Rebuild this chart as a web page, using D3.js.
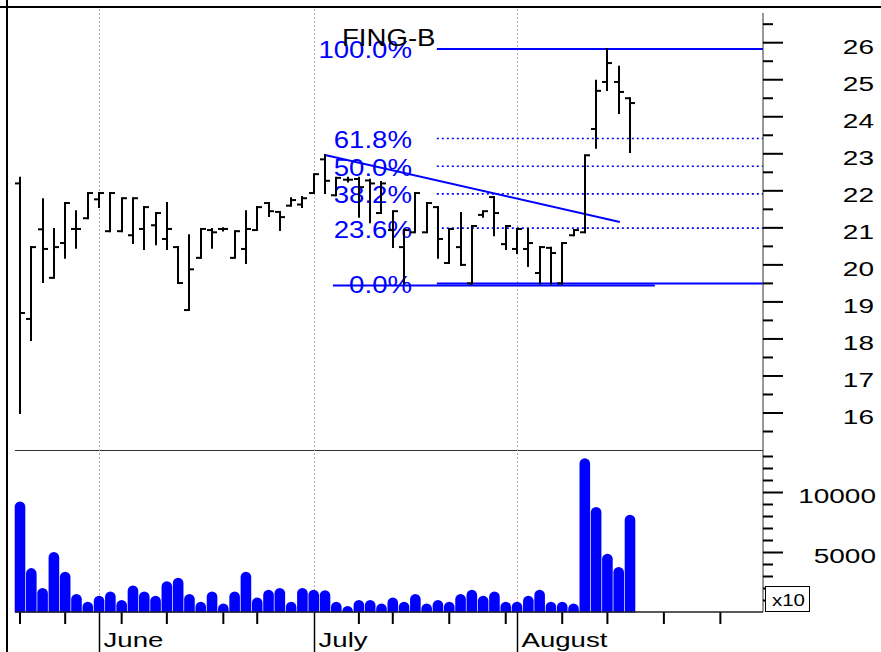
<!DOCTYPE html>
<html>
<head>
<meta charset="utf-8">
<script src="https://cdn.jsdelivr.net/npm/d3@7"></script>
<style>
  body { margin: 0; background: #fff; }
  svg { display: block; }
</style>
</head>
<body>
<svg id="chart" width="881" height="652"></svg>
<script>
// daily bars, trading day index 0..54 (late May -> mid August)
const openP  = [22.2, 18.54, 20.96, 19.65, 20.59, 20.97, 21.26, 21.77, 20.91, 20.91,
                20.8, 20.97, 21.07, 20.7, 20.48, 18.78, 20.19, 20.94, 20.97, 20.19,
                20.43, 20.94, 21.67, 21.43, 21.6, 21.63, 21.94, 22.85, 21.88, 22.3,
                22.32, 22.28, 21.4, 20.94, 20.48, 20.88, 20.88, 21.56, 20.05, 20.48,
                19.5, 21.35, 21.83, 20.56, 20.43, 20.43, 19.78, 20.46, 19.5, 20.8,
                20.88, 23.67, 24.94, 24.94, 24.5];
const highP  = [22.35, 20.48, 21.77, 20.97, 21.67, 21.45, 21.94, 21.94, 21.94, 21.8,
                21.8, 21.56, 21.4, 21.67, 20.48, 20.8, 20.97, 20.97, 20.99, 20.91,
                21.45, 21.56, 21.67, 21.43, 21.8, 21.83, 22.45, 22.97, 22.35, 22.35,
                22.35, 22.3, 22.24, 21.45, 20.94, 21.94, 21.67, 21.56, 20.97, 21.4,
                21.05, 21.45, 21.83, 21.05, 20.97, 20.97, 20.48, 20.46, 20.59, 20.94,
                22.96, 24.97, 25.83, 25.35, 24.5];
const lowP   = [16.0, 17.97, 19.54, 19.65, 20.19, 20.46, 21.26, 21.56, 20.91, 20.91,
                20.59, 20.43, 20.56, 20.43, 19.51, 18.78, 20.19, 20.46, 20.93, 20.19,
                20.05, 20.94, 21.32, 20.94, 21.6, 21.56, 21.94, 21.94, 21.88, 22.25,
                21.3, 21.15, 21.4, 20.48, 19.5, 20.88, 20.88, 20.19, 20.05, 20.0,
                19.5, 21.3, 20.8, 20.43, 20.32, 19.97, 19.5, 19.5, 19.5, 20.8,
                20.88, 23.16, 24.72, 24.1, 23.05];
const closeP = [18.7, 20.48, 20.43, 20.48, 21.67, 20.97, 21.94, 21.94, 21.94, 21.8,
                21.8, 21.56, 21.4, 20.97, 19.51, 19.88, 20.97, 20.88, 20.97, 20.91,
                20.97, 21.56, 21.45, 21.29, 21.75, 21.8, 22.45, 22.27, 22.35, 22.3,
                22.1, 22.2, 22.2, 21.45, 20.94, 21.94, 21.67, 20.7, 20.97, 20.0,
                21.05, 21.45, 21.4, 21.05, 20.97, 20.59, 20.48, 20.32, 20.59, 20.94,
                22.96, 24.7, 25.45, 24.67, 24.37];
const volume = [9250, 3700, 2050, 5050, 3400, 1550, 900, 1400, 1750, 1050,
                2250, 1750, 1400, 2600, 2900, 1550, 900, 1750, 750, 1750,
                3400, 1250, 1900, 2050, 900, 2050, 1900, 1850, 900, 550,
                1050, 1050, 750, 1250, 900, 1550, 750, 1050, 900, 1550,
                1900, 1400, 1750, 900, 900, 1400, 1900, 900, 900, 750,
                12850, 8800, 4900, 3800, 8150];

const weekTicks = [0, 4, 9, 13, 18, 21, 30, 33, 38, 43, 48, 52, 57, 62];
const monthTicks = [7, 26, 44];
const monthNames = ["June", "July", "August"];
const priceLabels = [16, 17, 18, 19, 20, 21, 22, 23, 24, 25, 26];
const priceMinor = [15.5, 16.5, 17.5, 18.5, 19.5, 20.5, 21.5, 22.5, 23.5, 24.5, 25.5, 26.5];
const volLabels = [5000, 10000];
const volMinor = [1000, 2000, 3000, 4000, 6000, 7000, 8000, 9000, 11000, 12000, 13000];

// fibonacci retracement drawn on the chart
const fibPct = [100, 61.8, 50, 38.2, 23.6, 0];
const fibNames = ["100.0%", "61.8%", "50.0%", "38.2%", "23.6%", "0.0%"];
const fibLow = 19.5, fibHigh = 25.83, fibStart = 36.9;
const trendLine = [[27, 22.97], [53.1, 21.16]];
const supportLine = [[27.7, 19.44], [56.2, 19.44]];

const svg = d3.select("#chart");
const FONT = "'Liberation Sans', Arial, sans-serif";
const BLUE = "#0000ff";

const x = d3.scaleLinear().domain([0, 54]).range([20, 630]);
const yP = d3.scaleLinear().domain([16, 26]).range([413, 42.7]);
const yV = d3.scaleLinear().domain([0, 13000]).range([612.5, 456.5]);
const axisX = 763, lastIdx = x.invert(axisX);

function label(x0, y0, txt, size, sx, anchor, color) {
  svg.append("text")
    .attr("transform", `translate(${x0},${y0}) scale(${sx},1)`)
    .attr("font-family", FONT).attr("font-size", size)
    .attr("text-anchor", anchor).attr("fill", color || "#000")
    .text(txt);
}

// frame
svg.append("line").attr("x1", 0).attr("x2", 881).attr("y1", 7).attr("y2", 7)
  .attr("stroke", "#000").attr("stroke-width", 2);
svg.append("line").attr("x1", 7).attr("x2", 7).attr("y1", 0).attr("y2", 652)
  .attr("stroke", "#000").attr("stroke-width", 2);
svg.append("line").attr("x1", 15).attr("x2", axisX).attr("y1", 450.5).attr("y2", 450.5)
  .attr("stroke", "#333").attr("stroke-width", 1);

// month grid
monthTicks.forEach((m, i) => {
  const mx = Math.round(x(m)) + 0.5;
  svg.append("line").attr("x1", mx).attr("x2", mx).attr("y1", 9).attr("y2", 612)
    .attr("stroke", "#aaa").attr("stroke-dasharray", "2,2");
  svg.append("line").attr("x1", mx).attr("x2", mx).attr("y1", 612).attr("y2", 652)
    .attr("stroke", "#000").attr("stroke-width", 1.5);
  label(mx + 4, 647, monthNames[i], 20, 1.38, "start");
});
weekTicks.forEach(w => {
  svg.append("line").attr("x1", x(w)).attr("x2", x(w)).attr("y1", 612).attr("y2", 624)
    .attr("stroke", "#000").attr("stroke-width", 2);
});

// fib levels
fibPct.forEach((p, i) => {
  const v = fibLow + (fibHigh - fibLow) * p / 100;
  const solid = p === 0 || p === 100;
  svg.append("line").attr("x1", x(fibStart)).attr("x2", axisX)
    .attr("y1", yP(v)).attr("y2", yP(v))
    .attr("stroke", BLUE).attr("stroke-width", solid ? 2 : 1.6)
    .attr("stroke-dasharray", solid ? null : "2,3");
  label(412, yP(v) + 9.5, fibNames[i], 23, 1.2, "end", BLUE);
});
const lineGen = d3.line().x(d => x(d[0])).y(d => yP(d[1]));
svg.append("path").attr("d", lineGen(trendLine)).attr("fill", "none")
  .attr("stroke", BLUE).attr("stroke-width", 2);
svg.append("path").attr("d", lineGen(supportLine)).attr("fill", "none")
  .attr("stroke", BLUE).attr("stroke-width", 2);

// OHLC bars
const tick = 5;
const bars = svg.append("g").attr("stroke", "#000").attr("stroke-width", 2);
openP.forEach((o, i) => {
  const cx = Math.round(x(i));
  bars.append("line").attr("x1", cx).attr("x2", cx)
    .attr("y1", yP(highP[i]) - 1).attr("y2", yP(lowP[i]) + 1);
  bars.append("line").attr("x1", cx - tick).attr("x2", cx)
    .attr("y1", yP(o)).attr("y2", yP(o));
  bars.append("line").attr("x1", cx).attr("x2", cx + tick)
    .attr("y1", yP(closeP[i])).attr("y2", yP(closeP[i]));
});

// volume with rounded tops
const bw = 10.6, r = bw / 2;
svg.append("g").selectAll("path").data(volume).join("path")
  .attr("fill", BLUE)
  .attr("d", (v, i) => {
    const x0 = x(i) - bw / 2, x1 = x(i) + bw / 2;
    const top = Math.min(yV(v) + r, yV(0) - 0.1);
    return `M${x0},${yV(0)}L${x0},${top}A${r},${r} 0 0 1 ${x1},${top}L${x1},${yV(0)}Z`;
  });
svg.append("line").attr("x1", 15).attr("x2", axisX).attr("y1", 612).attr("y2", 612)
  .attr("stroke", "#222").attr("stroke-width", 1.5);

// right axes
svg.append("line").attr("x1", axisX).attr("x2", axisX).attr("y1", 13).attr("y2", 612)
  .attr("stroke", "#333").attr("stroke-width", 1);
const ax = svg.append("g").attr("stroke", "#000").attr("stroke-width", 2);
priceMinor.forEach(v => ax.append("line").attr("x1", axisX).attr("x2", axisX + 10)
  .attr("y1", yP(v)).attr("y2", yP(v)));
priceLabels.forEach(v => {
  ax.append("line").attr("x1", axisX).attr("x2", axisX + 20).attr("y1", yP(v)).attr("y2", yP(v));
  label(874, yP(v) + 11, v, 20, 1.4, "end");
});
volMinor.forEach(v => ax.append("line").attr("x1", axisX).attr("x2", axisX + 10)
  .attr("y1", yV(v)).attr("y2", yV(v)));
volLabels.forEach(v => {
  ax.append("line").attr("x1", axisX).attr("x2", axisX + 20).attr("y1", yV(v)).attr("y2", yV(v));
  label(876, yV(v) + 10, v, 20, 1.4, "end");
});
svg.append("rect").attr("x", 765.5).attr("y", 586.5).attr("width", 44).attr("height", 25)
  .attr("fill", "#fff").attr("stroke", "#000");
label(772, 606, "x10", 16, 1.28, "start");

// title
label(342, 46, "FING-B", 23, 1.2, "start");
</script>
</body>
</html>
